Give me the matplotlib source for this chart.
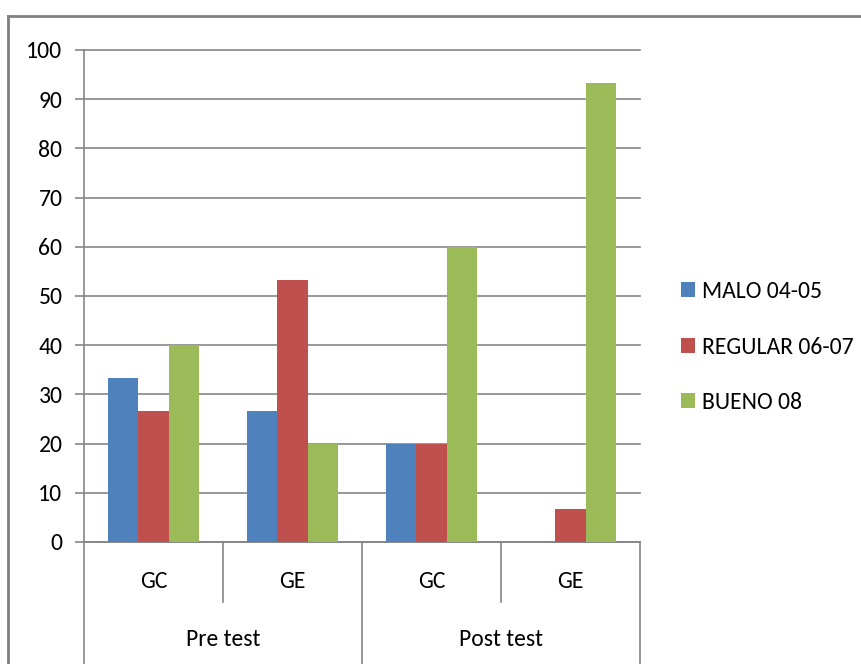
import matplotlib
matplotlib.use("Agg")
import matplotlib.pyplot as plt
from matplotlib.lines import Line2D
from matplotlib.patches import Patch
import numpy as np

plt.rcParams['font.family'] = ['Carlito', 'DejaVu Sans']

groups = ["Pre test", "Post test"]
subgroups = ["GC", "GE", "GC", "GE"]
series = ["MALO 04-05", "REGULAR 06-07", "BUENO 08"]
malo = [33.3, 26.7, 20.0, 0.0]
regular = [26.7, 53.3, 20.0, 6.7]
bueno = [40.0, 20.0, 60.0, 93.3]
colors = ["#4F81BD", "#C0504D", "#9BBB59"]
yticks = list(range(0, 101, 10))

W, H = 861, 664
fs = 17
fig = plt.figure(figsize=(W / 100, H / 100), dpi=100)
x0, x1, y0, y1 = 84, 640, 542, 50
ax = fig.add_axes([x0 / W, 1 - y0 / H, (x1 - x0) / W, (y0 - y1) / H])

n = len(subgroups)
x = np.arange(n)
bw = 0.22
for i, (vals, c) in enumerate(zip([malo, regular, bueno], colors)):
    ax.bar(x + (i - 1) * bw, vals, bw, color=c, zorder=3, label=series[i])

ax.set_xlim(-0.5, n - 0.5)
ax.set_ylim(0, 100)
ax.set_yticks(yticks)
ax.set_yticklabels([str(t) for t in yticks], fontsize=fs)
ax.tick_params(axis='y', length=6.5, color='#868686', width=1.2, pad=9)
ax.set_xticks([])
ax.yaxis.grid(True, color='#868686', linewidth=1.2, zorder=0)
for gl in ax.get_ygridlines():
    gl.set_clip_on(False)
ax.set_axisbelow(True)
for s in ['top', 'right']:
    ax.spines[s].set_visible(False)
ax.spines['left'].set_color('#868686')
ax.spines['bottom'].set_color('#868686')
ax.spines['left'].set_linewidth(1.2)
ax.spines['bottom'].set_linewidth(1.2)

# multi-level category axis
tr = ax.get_xaxis_transform()
gray = '#868686'
for b in np.arange(-0.5, n, 1.0):
    k = int(b + 0.5)
    bottom = -(H - y0) / (y0 - y1) if k % 2 == 0 else -(602 - y0) / (y0 - y1)
    ax.plot([b, b], [0, bottom], transform=tr, color=gray, lw=1.2, clip_on=False)
for i, lab in enumerate(subgroups):
    ax.text(i, -(582 - y0) / (y0 - y1), lab, transform=tr, ha='center', va='center', fontsize=fs)
for g, lab in enumerate(groups):
    ax.text(2 * g + 0.5, -(640 - y0) / (y0 - y1), lab, transform=tr, ha='center', va='center', fontsize=fs)

# legend
handles = [Patch(facecolor=c, edgecolor='none') for c in colors]
fig.legend(handles, series, loc='center left', bbox_to_anchor=(660 / W, 1 - 347 / H),
           frameon=False, fontsize=fs, handlelength=0.6, handleheight=0.6,
           handletextpad=0.3, labelspacing=1.45)

# outer chart frame
fig.add_artist(Line2D([8 / W, 8 / W], [0, 1 - 16 / H], color='#7F7F7F', lw=2, transform=fig.transFigure))
fig.add_artist(Line2D([8 / W, 1], [1 - 16 / H, 1 - 16 / H], color='#7F7F7F', lw=2, transform=fig.transFigure))

fig.savefig("out.png", dpi=100, facecolor='white')
